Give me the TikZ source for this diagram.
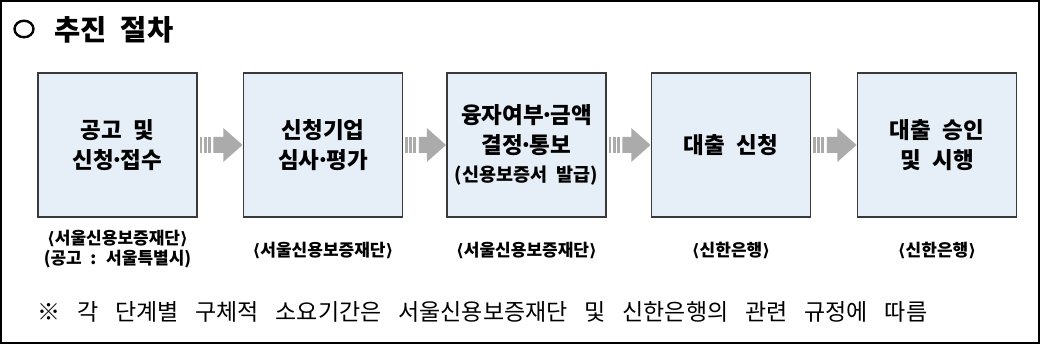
\documentclass[tikz,border=0pt]{standalone}
\usepackage{fontspec}
\setmainfont{Noto Sans CJK KR}[WordSpace=2.2]
\newfontfamily\dvfont{DejaVu Sans}
\usetikzlibrary{calc,shapes.geometric}
\definecolor{boxfill}{HTML}{E6EEF8}
\definecolor{boxline}{HTML}{3A3A3A}
\definecolor{arrowgray}{HTML}{ABABAB}
\newcommand{\lbr}{{\dvfont ⟨}}
\newcommand{\rbr}{{\dvfont ⟩}}
\newcommand{\mdot}{\makebox[0.3em]{·}}
\newcommand{\flowarrow}[2]{%
  \fill[arrowgray] ($(#1.east)+(2,-8)$) rectangle ($(#1.east)+(4.7,8)$);
  \fill[arrowgray] ($(#1.east)+(6.3,-8)$) rectangle ($(#1.east)+(9,8)$);
  \fill[arrowgray] ($(#1.east)+(10.3,-8)$) rectangle ($(#1.east)+(13,8)$);
  \fill[arrowgray] ($(#1.east)+(15.7,-8)$) -- ($(#2.west)+(-19.6,-8)$)
     -- ($(#2.west)+(-19.6,-17)$) -- ($(#2.west)+(-0.4,0)$)
     -- ($(#2.west)+(-19.6,17)$) -- ($(#2.west)+(-19.6,8)$)
     -- ($(#1.east)+(15.7,8)$) -- cycle;
}
\begin{document}
\begin{tikzpicture}[x=1pt,y=-1pt,
  stepbox/.style={draw=boxline, line width=1.2pt, fill=boxfill,
    minimum width=159pt, minimum height=144pt, inner sep=0pt,
    align=center, font=\fontsize{22.5}{29.5}\selectfont\bfseries},
  org/.style={align=center, inner sep=0pt,
    font=\fontsize{17}{20}\selectfont\bfseries},
]
\useasboundingbox (0,0) rectangle (1040,344);
\draw[line width=1.6pt] (1,1) rectangle (1039,343);

% title
\node[draw, line width=2.4pt, ellipse, minimum width=19pt, minimum height=16.5pt, inner sep=0pt] (bullet) at (24,29) {};
\node[inner sep=0pt, anchor=west, font=\fontsize{28.5}{28.5}\selectfont\bfseries] (title) at (54,29.5) {추진 절차};

% boxes
\node[stepbox] (s1) at (117.5,145) {공고 및\\신청\mdot 접수};
\node[stepbox] (s2) at (323,145) {신청기업\\심사\mdot 평가};
\node[stepbox] (s3) at (526.5,145) {융자여부\mdot 금액\\결정\mdot 통보\\[-1pt]{\fontsize{18.5}{29.5}\selectfont (신용보증서 발급)}};
\node[stepbox] (s4) at (731,145) {대출 신청};
\node[stepbox] (s5) at (937,145) {대출 승인\\및 시행};

% arrows
\flowarrow{s1}{s2}
\flowarrow{s2}{s3}
\flowarrow{s3}{s4}
\flowarrow{s4}{s5}

% organisations
\node[org] (o1) at (117.5,249.5) {\lbr 서울신용보증재단\rbr\\(공고 : 서울특별시)};
\node[org] (o2) at (323,250) {\lbr 서울신용보증재단\rbr};
\node[org] (o3) at (526.5,250) {\lbr 서울신용보증재단\rbr};
\node[org] (o4) at (731,250) {\lbr 신한은행\rbr};
\node[org] (o5) at (937,250) {\lbr 신한은행\rbr};

% note
\node[inner sep=0pt, anchor=west, font=\fontsize{23}{23}\selectfont] (note) at (37,312)
  {\makebox[890pt][s]{※ 각 단계별 구체적 소요기간은 서울신용보증재단 및 신한은행의 관련 규정에 따름}};
\end{tikzpicture}
\end{document}
